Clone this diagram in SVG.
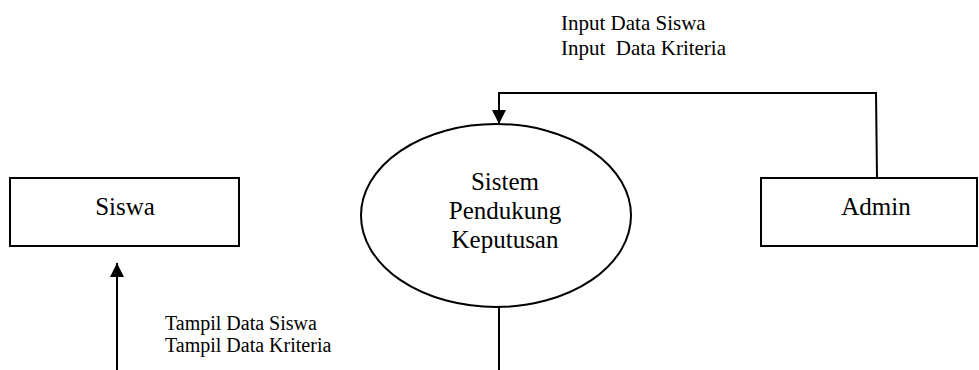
<svg xmlns="http://www.w3.org/2000/svg" width="979" height="370" viewBox="0 0 979 370">
  <style>
    .box { fill: #ffffff; stroke: #000000; stroke-width: 2; }
    .line { fill: none; stroke: #000000; stroke-width: 2; }
    .main { font-family: "Liberation Serif", "Times New Roman", serif; font-size: 25px; fill: #000000; text-anchor: middle; }
    .label { font-family: "Liberation Serif", "Times New Roman", serif; font-size: 21px; fill: #000000; }
    .label2 { font-family: "Liberation Serif", "Times New Roman", serif; font-size: 20px; fill: #000000; }
  </style>
  <defs>
    <marker id="arrow" markerUnits="userSpaceOnUse" markerWidth="15" markerHeight="15" refX="14" refY="7" orient="auto">
      <path d="M0,0 L14,7 L0,14 Z" fill="#000000"/>
    </marker>
  </defs>
  <rect x="0" y="0" width="979" height="370" fill="#ffffff"/>

  <g id="connectors">
    <polyline class="line" points="877,178 876,93 499,93 499,124" marker-end="url(#arrow)"/>
    <line class="line" x1="499" y1="307" x2="499" y2="370"/>
    <line class="line" x1="117" y1="370" x2="117" y2="263" marker-end="url(#arrow)"/>
    <text class="label" x="561" y="30">Input Data Siswa</text>
    <text class="label" x="561" y="55" xml:space="preserve">Input  Data Kriteria</text>
    <text class="label2" x="165" y="330">Tampil Data Siswa</text>
    <text class="label2" x="165" y="352">Tampil Data Kriteria</text>
  </g>

  <g id="siswa">
    <rect class="box" x="10" y="178" width="229" height="68"/>
    <text class="main" x="125" y="215">Siswa</text>
  </g>

  <g id="sistem">
    <ellipse class="box" cx="496" cy="215.5" rx="135" ry="91.5"/>
    <text class="main" x="505" y="190">Sistem</text>
    <text class="main" x="505" y="219">Pendukung</text>
    <text class="main" x="505" y="248">Keputusan</text>
  </g>

  <g id="admin">
    <rect class="box" x="761" y="178" width="216" height="68"/>
    <text class="main" x="876" y="215">Admin</text>
  </g>
</svg>
